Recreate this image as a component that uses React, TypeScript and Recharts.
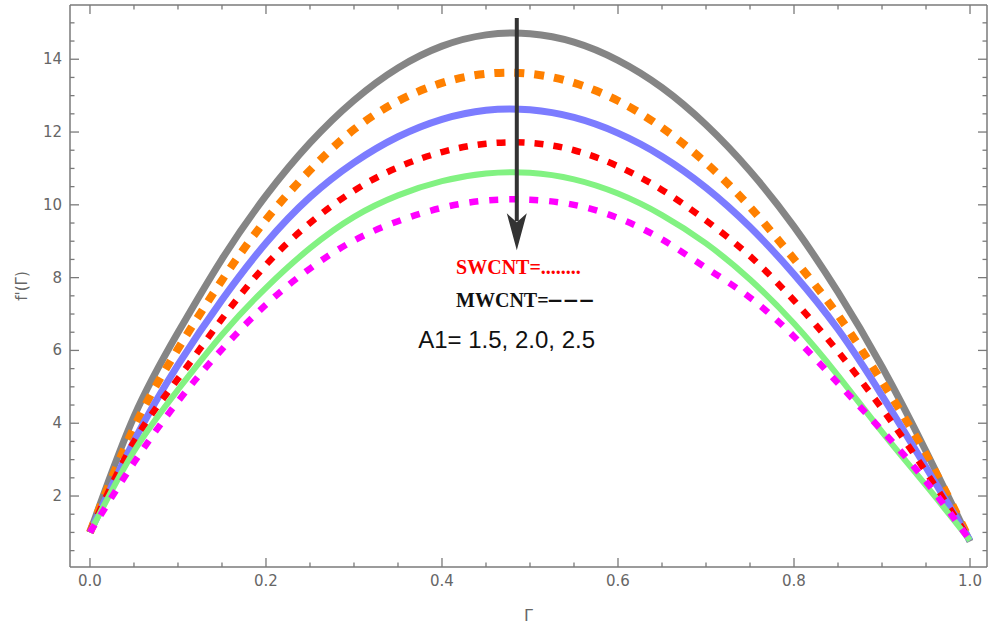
import React from 'react';
import { LineChart, Line, XAxis, YAxis, ReferenceLine, ReferenceDot } from 'recharts';

// Γ grid and f'(Γ) profiles (top curve to bottom curve)
const gamma = [0, 0.05, 0.1, 0.15, 0.2, 0.25, 0.3, 0.35, 0.4, 0.45, 0.5, 0.55, 0.6, 0.65, 0.7, 0.75, 0.8, 0.85, 0.9, 0.95, 1.0];
const blackCurve = [1.0, 4.18, 6.49, 8.51, 10.25, 11.7, 12.87, 13.76, 14.36, 14.67, 14.7, 14.47, 13.97, 13.22, 12.2, 10.93, 9.4, 7.6, 5.55, 3.23, 0.75];
const orangeCurve = [1.0, 3.88, 6.04, 7.93, 9.59, 10.95, 12.07, 12.85, 13.35, 13.6, 13.6, 13.35, 12.86, 12.12, 11.15, 9.94, 8.51, 6.97, 5.14, 3.14, 0.78];
const blueCurve = [1.0, 3.51, 5.6, 7.39, 8.95, 10.21, 11.16, 11.87, 12.35, 12.6, 12.61, 12.4, 11.97, 11.33, 10.47, 9.39, 8.09, 6.58, 4.76, 2.79, 0.78];
const redCurve = [1.0, 3.49, 5.22, 6.87, 8.35, 9.5, 10.39, 11.03, 11.45, 11.68, 11.7, 11.5, 11.06, 10.41, 9.57, 8.59, 7.37, 5.97, 4.4, 2.66, 0.78];
const greenCurve = [1.0, 3.23, 4.92, 6.43, 7.72, 8.81, 9.67, 10.26, 10.65, 10.86, 10.88, 10.7, 10.31, 9.72, 8.94, 7.95, 6.74, 5.31, 3.76, 2.29, 0.78];
const magentaCurve = [1.0, 2.92, 4.6, 6.03, 7.26, 8.25, 9.02, 9.55, 9.92, 10.12, 10.14, 10.0, 9.64, 9.05, 8.27, 7.45, 6.38, 5.1, 3.8, 2.4, 0.78];

const xTicks = [0, 0.05, 0.1, 0.15, 0.2, 0.25, 0.3, 0.35, 0.4, 0.45, 0.5, 0.55, 0.6, 0.65, 0.7, 0.75, 0.8, 0.85, 0.9, 0.95, 1.0];
const xLabels = [0, 0.2, 0.4, 0.6, 0.8, 1.0];
const yTicks = [0.5, 1, 1.5, 2, 2.5, 3, 3.5, 4, 4.5, 5, 5.5, 6, 6.5, 7, 7.5, 8, 8.5, 9, 9.5, 10, 10.5, 11, 11.5, 12, 12.5, 13, 13.5, 14, 14.5, 15];
const yLabels = [2, 4, 6, 8, 10, 12, 14];

const data = gamma.map((g, i) => ({
  g,
  black: blackCurve[i],
  orange: orangeCurve[i],
  blue: blueCurve[i],
  red: redCurve[i],
  green: greenCurve[i],
  magenta: magentaCurve[i],
}));

const frameColor = '#7a7a7a';
const labelColor = '#666';
const tickFont = 'DejaVu Sans, sans-serif';
const MAJOR = 9;
const MINOR = 4.5;

const isLabel = (list: number[], v: number) => list.some(l => Math.abs(l - v) < 1e-6);

const BottomTick = (props: any) => {
  const { x, y, payload } = props;
  const major = isLabel(xLabels, payload.value);
  return (
    <g>
      <line x1={x} y1={y} x2={x} y2={y - (major ? MAJOR : MINOR)} stroke={frameColor} strokeWidth={1.3} />
      {major && (
        <text x={x} y={y + 19} textAnchor="middle" fill={labelColor} fontSize={15} fontFamily={tickFont}>
          {payload.value.toFixed(1)}
        </text>
      )}
    </g>
  );
};

const TopTick = (props: any) => {
  const { x, y, payload } = props;
  const major = isLabel(xLabels, payload.value);
  return <line x1={x} y1={y} x2={x} y2={y + (major ? MAJOR : MINOR)} stroke={frameColor} strokeWidth={1.3} />;
};

const LeftTick = (props: any) => {
  const { x, y, payload } = props;
  const major = isLabel(yLabels, payload.value);
  return (
    <g>
      <line x1={x} y1={y} x2={x + (major ? MAJOR : MINOR)} y2={y} stroke={frameColor} strokeWidth={1.3} />
      {major && (
        <text x={x - 8} y={y + 5} textAnchor="end" fill={labelColor} fontSize={15} fontFamily={tickFont}>
          {payload.value}
        </text>
      )}
    </g>
  );
};

const RightTick = (props: any) => {
  const { x, y, payload } = props;
  const major = isLabel(yLabels, payload.value);
  return <line x1={x} y1={y} x2={x - (major ? MAJOR : MINOR)} y2={y} stroke={frameColor} strokeWidth={1.3} />;
};

const ArrowShape = (props: any) => {
  const { x1, y1, x2, y2 } = props;
  const head = 37;
  return (
    <g>
      <line x1={x1} y1={y1} x2={x2} y2={y2 - head + 8} stroke="#333" strokeWidth={4} />
      <polygon
        points={`${x2},${y2} ${x2 - 10},${y2 - head} ${x2},${y2 - head + 9} ${x2 + 10},${y2 - head}`}
        fill="#333"
      />
    </g>
  );
};

const note = (text: string, color: string, size: number, family: string, weight: string, spacing = 0) => (p: any) => (
  <text x={p.cx} y={p.cy} fill={color} fontSize={size} fontFamily={family} fontWeight={weight} letterSpacing={spacing}>
    {text}
  </text>
);

const YLabel = (props: any) => {
  const vb = props.viewBox || { x: 0, y: 5, width: 70, height: 562 };
  const cx = vb.x + 22;
  const cy = vb.y + vb.height / 2;
  return (
    <text
      x={cx}
      y={cy}
      transform={`rotate(-90 ${cx} ${cy})`}
      textAnchor="middle"
      dominantBaseline="central"
      fill={labelColor}
      fontSize={15}
      fontFamily={tickFont}
    >
      f'(Γ)
    </text>
  );
};

export default function App() {
  const xDomain = [-0.0227, 1.0193];
  const yDomain = [0.05, 15.49];
  return (
    <div style={{ position: 'absolute', left: 0, top: 0, background: '#fff' }}>
      <LineChart width={1000} height={633} data={data} margin={{ top: 0, right: 0, bottom: 0, left: 0 }}>
        <XAxis
          dataKey="g"
          type="number"
          domain={xDomain}
          ticks={xTicks}
          interval={0}
          allowDataOverflow
          height={66}
          tickSize={0}
          tickMargin={0}
          tickLine={false}
          axisLine={{ stroke: frameColor, strokeWidth: 1.5 }}
          tick={<BottomTick />}
          label={{ value: 'Γ', position: 'insideBottom', offset: 12, fill: labelColor, fontSize: 16, fontFamily: tickFont }}
        />
        <XAxis
          xAxisId="top"
          dataKey="g"
          type="number"
          orientation="top"
          domain={xDomain}
          ticks={xTicks}
          interval={0}
          allowDataOverflow
          height={5}
          tickSize={0}
          tickMargin={0}
          tickLine={false}
          axisLine={{ stroke: frameColor, strokeWidth: 1.5 }}
          tick={<TopTick />}
        />
        <YAxis
          type="number"
          domain={yDomain}
          ticks={yTicks}
          interval={0}
          allowDataOverflow
          width={70}
          tickSize={0}
          tickMargin={0}
          tickLine={false}
          axisLine={{ stroke: frameColor, strokeWidth: 1.5 }}
          tick={<LeftTick />}
          label={{ content: <YLabel /> }}
        />
        <YAxis
          yAxisId="right"
          type="number"
          orientation="right"
          domain={yDomain}
          ticks={yTicks}
          interval={0}
          allowDataOverflow
          width={13}
          tickSize={0}
          tickMargin={0}
          tickLine={false}
          axisLine={{ stroke: frameColor, strokeWidth: 1.5 }}
          tick={<RightTick />}
        />

        <Line type="natural" dataKey="black" stroke="#666" strokeOpacity={0.8} strokeWidth={7} dot={false} activeDot={false} isAnimationActive={false} />
        <Line type="natural" dataKey="orange" stroke="#ff8000" strokeWidth={8} strokeDasharray="10 10" dot={false} activeDot={false} isAnimationActive={false} />
        <Line type="natural" dataKey="blue" stroke="#7c7cff" strokeWidth={7} dot={false} activeDot={false} isAnimationActive={false} />
        <Line type="natural" dataKey="red" stroke="#ff0000" strokeWidth={6.5} strokeDasharray="9 10" dot={false} activeDot={false} isAnimationActive={false} />
        <Line type="natural" dataKey="green" stroke="#82f282" strokeWidth={6} dot={false} activeDot={false} isAnimationActive={false} />
        <Line type="natural" dataKey="magenta" stroke="#ff00ff" strokeWidth={6.5} strokeDasharray="9 11" dot={false} activeDot={false} isAnimationActive={false} />

        <ReferenceLine segment={[{ x: 0.485, y: 15.13 }, { x: 0.485, y: 8.75 }]} shape={ArrowShape} />
        <ReferenceDot x={0.416} y={8.1} r={0} shape={note('SWCNT=........', '#ff0000', 20, 'Liberation Serif, serif', 'bold')} />
        <ReferenceDot x={0.416} y={7.19} r={0} shape={note('MWCNT=', '#111', 20, 'Liberation Serif, serif', 'bold')} />
        <ReferenceDot x={0.519} y={7.19} r={0} shape={note('−−−', '#111', 20, 'DejaVu Sans, sans-serif', 'bold', -1)} />
        <ReferenceDot x={0.373} y={6.06} r={0} shape={note('A1= 1.5, 2.0, 2.5', '#111', 24, 'Liberation Sans, Arial, sans-serif', 'normal')} />
      </LineChart>
    </div>
  );
}
